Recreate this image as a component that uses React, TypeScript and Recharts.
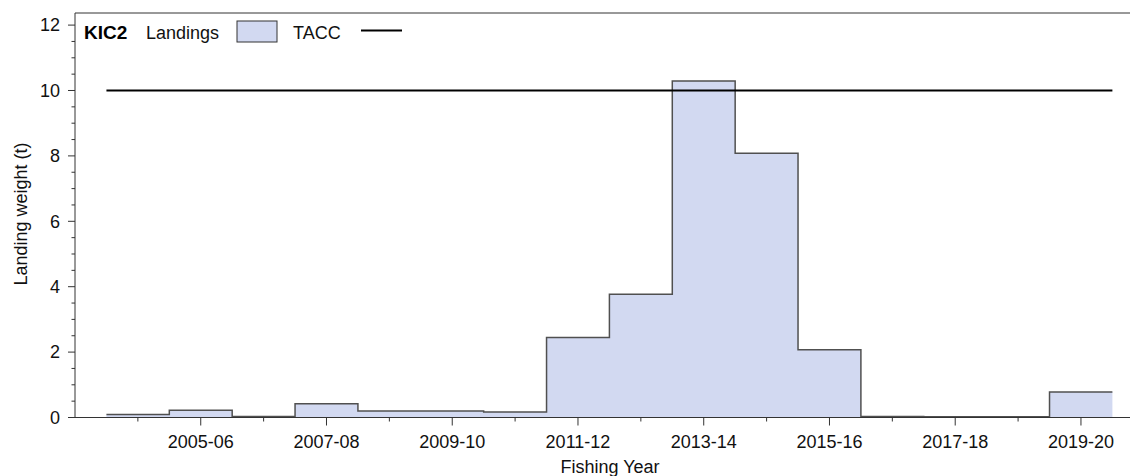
import React from 'react';
import { ComposedChart, Area, Line, XAxis, YAxis, ReferenceLine } from 'recharts';

const YEARS = [
  '2004-05', '2005-06', '2006-07', '2007-08', '2008-09', '2009-10', '2010-11', '2011-12',
  '2012-13', '2013-14', '2014-15', '2015-16', '2016-17', '2017-18', '2018-19', '2019-20',
];
const LANDINGS = [0.09, 0.22, 0.03, 0.42, 0.2, 0.2, 0.17, 2.45, 3.77, 10.29, 8.08, 2.07, 0.03, 0.02, 0.02, 0.78];
const TACC = [10, 10, 10, 10, 10, 10, 10, 10, 10, 10, 10, 10, 10, 10, 10, 10];
const Y_TICKS = [0, 0.5, 1, 1.5, 2, 2.5, 3, 3.5, 4, 4.5, 5, 5.5, 6, 6.5, 7, 7.5, 8, 8.5, 9, 9.5, 10, 10.5, 11, 11.5, 12];
const Y_MAX = 12.37;

const FONT = '"Liberation Sans", Arial, sans-serif';
const FILL = '#d2d9f1';
const OUTLINE = '#505050';
const AXIS = '#333';
const PLOT_LEFT = 75;
const PLOT_BOTTOM = 417.5;

// step edges built from the arrays: each year spans [i-0.5, i+0.5]
const steps = YEARS.map((_, i) => ({ x: i - 0.5, landings: LANDINGS[i], tacc: TACC[i] }));
steps.push({ x: YEARS.length - 0.5, landings: LANDINGS[YEARS.length - 1], tacc: TACC[YEARS.length - 1] });
const X_TICKS = YEARS.map((_, i) => i);

const XTick = (props: any) => {
  const { x, payload } = props;
  const i = payload.value as number;
  const major = i % 2 === 1;
  return (
    <g>
      <line x1={x} x2={x} y1={PLOT_BOTTOM} y2={PLOT_BOTTOM + (major ? 8 : 4)} stroke={AXIS} strokeWidth={1} />
      {major && (
        <text x={x} y={448} textAnchor="middle" fontFamily={FONT} fontSize={18} fill="#111">
          {YEARS[i]}
        </text>
      )}
    </g>
  );
};

const YTick = (props: any) => {
  const { y, payload } = props;
  const v = payload.value as number;
  const major = v % 2 === 0;
  return (
    <g>
      <line x1={PLOT_LEFT - (major ? 7 : 3.5)} x2={PLOT_LEFT} y1={y} y2={y} stroke={AXIS} strokeWidth={1} />
      {major && (
        <text x={60} y={y + 6.3} textAnchor="end" fontFamily={FONT} fontSize={18} fill="#111">
          {v}
        </text>
      )}
    </g>
  );
};

export default function App() {
  return (
    <div style={{ position: 'absolute', left: 0, top: 0, width: 1130, height: 476, background: '#fff' }}>
      <ComposedChart width={1130} height={476} data={steps} margin={{ top: 13, right: 0, bottom: 0, left: 0 }}>
        <XAxis
          type="number"
          dataKey="x"
          domain={[-1, 15.78]}
          ticks={X_TICKS}
          allowDataOverflow
          height={58.5}
          axisLine={{ stroke: AXIS, strokeWidth: 1 }}
          tickLine={false}
          tick={<XTick />}
          interval={0}
        />
        <YAxis
          type="number"
          domain={[0, Y_MAX]}
          ticks={Y_TICKS}
          allowDataOverflow
          width={75}
          axisLine={{ stroke: AXIS, strokeWidth: 1 }}
          tickLine={false}
          tick={<YTick />}
          interval={0}
        />
        <ReferenceLine y={Y_MAX} stroke={AXIS} strokeWidth={1} />
        <Area
          type="stepAfter"
          dataKey="landings"
          stroke={OUTLINE}
          strokeWidth={1.5}
          fill={FILL}
          fillOpacity={1}
          isAnimationActive={false}
          dot={false}
          activeDot={false}
        />
        <Line
          type="linear"
          dataKey="tacc"
          stroke="#000"
          strokeWidth={2}
          dot={false}
          activeDot={false}
          isAnimationActive={false}
        />
      </ComposedChart>
      <svg
        width={1130}
        height={476}
        style={{ position: 'absolute', left: 0, top: 0, pointerEvents: 'none' }}
      >
        <text x={27} y={214} transform="rotate(-90 27 214)" textAnchor="middle" fontFamily={FONT} fontSize={18} fill="#111">
          Landing weight (t)
        </text>
        <text x={610} y={473} textAnchor="middle" fontFamily={FONT} fontSize={18} fill="#111">
          Fishing Year
        </text>
        <text x={84} y={39} fontFamily={FONT} fontSize={19} fontWeight="bold" fill="#000">
          KIC2
        </text>
        <text x={146} y={39} fontFamily={FONT} fontSize={18} fill="#111">
          Landings
        </text>
        <rect x={237} y={21} width={40} height={21} fill={FILL} stroke={AXIS} strokeWidth={1} />
        <text x={293} y={39} fontFamily={FONT} fontSize={18} fill="#111">
          TACC
        </text>
        <line x1={361} x2={402} y1={30.5} y2={30.5} stroke="#000" strokeWidth={2} />
      </svg>
    </div>
  );
}
